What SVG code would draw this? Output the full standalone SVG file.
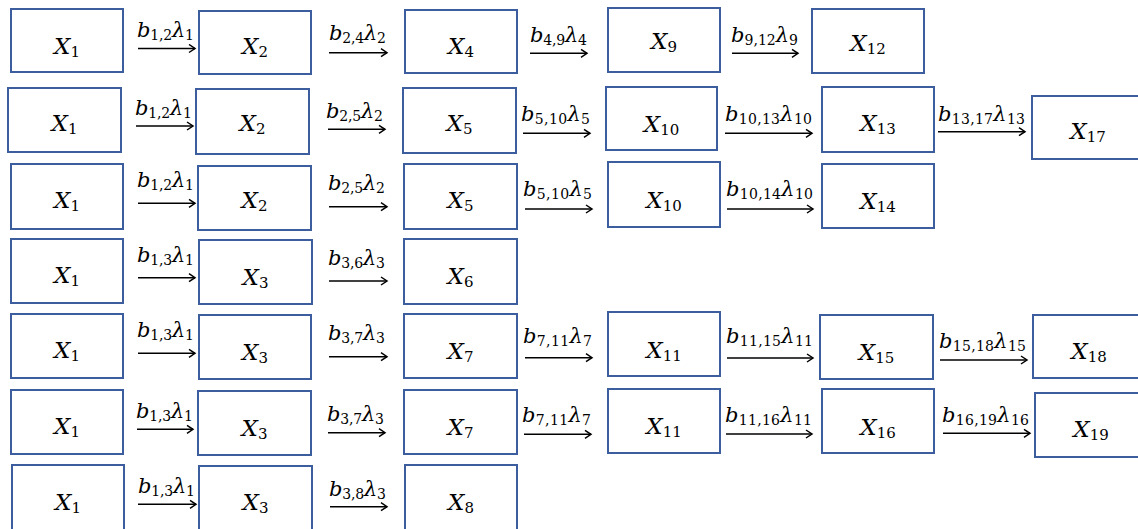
<svg xmlns="http://www.w3.org/2000/svg" width="1138" height="529" viewBox="0 0 1138 529">
<style>
.box{fill:#fff;stroke:#3D5E9E;stroke-width:2}
.nl{font-family:"DejaVu Serif",serif;font-size:23px;font-style:italic;fill:#000;text-anchor:middle}
.ns{font-style:normal;font-size:15px}
.el{font-family:"DejaVu Serif",serif;font-size:21px;font-style:italic;fill:#000}
.es{font-style:normal;font-size:14px}
.ar{stroke:#000;stroke-width:1.6;fill:none;marker-end:url(#ah)}
</style>
<defs>
<marker id="ah" markerUnits="userSpaceOnUse" markerWidth="10" markerHeight="10" refX="7" refY="5" orient="auto" viewBox="0 0 10 10">
<path d="M1,1 L7,5 L1,9" fill="none" stroke="#000" stroke-width="1.5"/>
</marker>
</defs>
<rect width="1138" height="529" fill="#fff"/>

<!-- Row 1 -->
<g id="r1-X1"><rect class="box" x="11" y="9" width="112" height="63"/><text class="nl" x="67" y="54">X<tspan class="ns" dy="3">1</tspan></text></g>
<g id="r1-X2"><rect class="box" x="199" y="11" width="112" height="63"/><text class="nl" x="255" y="54">X<tspan class="ns" dy="3">2</tspan></text></g>
<g id="r1-X4"><rect class="box" x="405" y="10" width="112" height="63"/><text class="nl" x="461" y="54">X<tspan class="ns" dy="3">4</tspan></text></g>
<g id="r1-X9"><rect class="box" x="608" y="8" width="112" height="64"/><text class="nl" x="664" y="49">X<tspan class="ns" dy="3">9</tspan></text></g>
<g id="r1-X12"><rect class="box" x="812" y="9" width="112" height="64"/><text class="nl" x="868" y="51">X<tspan class="ns" dy="3">12</tspan></text></g>

<!-- Row 2 -->
<g id="r2-X1"><rect class="box" x="8" y="88" width="113" height="64"/><text class="nl" x="64.5" y="131">X<tspan class="ns" dy="3">1</tspan></text></g>
<g id="r2-X2"><rect class="box" x="196" y="89" width="113" height="65"/><text class="nl" x="252.5" y="131">X<tspan class="ns" dy="3">2</tspan></text></g>
<g id="r2-X5"><rect class="box" x="403" y="88" width="113" height="65"/><text class="nl" x="459.5" y="131">X<tspan class="ns" dy="3">5</tspan></text></g>
<g id="r2-X10"><rect class="box" x="606" y="87" width="111" height="63"/><text class="nl" x="661.5" y="132">X<tspan class="ns" dy="3">10</tspan></text></g>
<g id="r2-X13"><rect class="box" x="822" y="87" width="112" height="65"/><text class="nl" x="878" y="131">X<tspan class="ns" dy="3">13</tspan></text></g>
<g id="r2-X17"><rect class="box" x="1032" y="96" width="112" height="63"/><text class="nl" x="1088" y="139">X<tspan class="ns" dy="3">17</tspan></text></g>

<!-- Row 3 -->
<g id="r3-X1"><rect class="box" x="11" y="164" width="112" height="65"/><text class="nl" x="67" y="208">X<tspan class="ns" dy="3">1</tspan></text></g>
<g id="r3-X2"><rect class="box" x="198" y="166" width="113" height="64"/><text class="nl" x="254.5" y="208">X<tspan class="ns" dy="3">2</tspan></text></g>
<g id="r3-X5"><rect class="box" x="404" y="164" width="113" height="65"/><text class="nl" x="460.5" y="208">X<tspan class="ns" dy="3">5</tspan></text></g>
<g id="r3-X10"><rect class="box" x="608" y="162" width="112" height="65"/><text class="nl" x="664" y="208">X<tspan class="ns" dy="3">10</tspan></text></g>
<g id="r3-X14"><rect class="box" x="822" y="164" width="112" height="64"/><text class="nl" x="878" y="209">X<tspan class="ns" dy="3">14</tspan></text></g>

<!-- Row 4 -->
<g id="r4-X1"><rect class="box" x="11" y="239" width="112" height="64"/><text class="nl" x="67" y="283">X<tspan class="ns" dy="3">1</tspan></text></g>
<g id="r4-X3"><rect class="box" x="199" y="240" width="113" height="64"/><text class="nl" x="255.5" y="285">X<tspan class="ns" dy="3">3</tspan></text></g>
<g id="r4-X6"><rect class="box" x="404" y="239" width="113" height="65"/><text class="nl" x="460.5" y="284">X<tspan class="ns" dy="3">6</tspan></text></g>

<!-- Row 5 -->
<g id="r5-X1"><rect class="box" x="11" y="314" width="112" height="64"/><text class="nl" x="67" y="358">X<tspan class="ns" dy="3">1</tspan></text></g>
<g id="r5-X3"><rect class="box" x="199" y="315" width="112" height="64"/><text class="nl" x="255" y="360">X<tspan class="ns" dy="3">3</tspan></text></g>
<g id="r5-X7"><rect class="box" x="404" y="314" width="113" height="64"/><text class="nl" x="460.5" y="359">X<tspan class="ns" dy="3">7</tspan></text></g>
<g id="r5-X11"><rect class="box" x="608" y="312" width="112" height="64"/><text class="nl" x="664" y="358">X<tspan class="ns" dy="3">11</tspan></text></g>
<g id="r5-X15"><rect class="box" x="820" y="315" width="113" height="64"/><text class="nl" x="876.5" y="360">X<tspan class="ns" dy="3">15</tspan></text></g>
<g id="r5-X18"><rect class="box" x="1033" y="315" width="112" height="63"/><text class="nl" x="1089" y="359">X<tspan class="ns" dy="3">18</tspan></text></g>

<!-- Row 6 -->
<g id="r6-X1"><rect class="box" x="11" y="390" width="112" height="64"/><text class="nl" x="67" y="434">X<tspan class="ns" dy="3">1</tspan></text></g>
<g id="r6-X3"><rect class="box" x="198" y="391" width="113" height="64"/><text class="nl" x="254.5" y="436">X<tspan class="ns" dy="3">3</tspan></text></g>
<g id="r6-X7"><rect class="box" x="404" y="390" width="113" height="64"/><text class="nl" x="460.5" y="435">X<tspan class="ns" dy="3">7</tspan></text></g>
<g id="r6-X11"><rect class="box" x="608" y="389" width="112" height="64"/><text class="nl" x="664" y="434">X<tspan class="ns" dy="3">11</tspan></text></g>
<g id="r6-X16"><rect class="box" x="822" y="389" width="112" height="64"/><text class="nl" x="878" y="435">X<tspan class="ns" dy="3">16</tspan></text></g>
<g id="r6-X19"><rect class="box" x="1035" y="393" width="112" height="64"/><text class="nl" x="1091" y="437">X<tspan class="ns" dy="3">19</tspan></text></g>

<!-- Row 7 -->
<g id="r7-X1"><rect class="box" x="12" y="465" width="112" height="70"/><text class="nl" x="68" y="510">X<tspan class="ns" dy="3">1</tspan></text></g>
<g id="r7-X3"><rect class="box" x="199" y="466" width="113" height="70"/><text class="nl" x="255.5" y="510">X<tspan class="ns" dy="3">3</tspan></text></g>
<g id="r7-X8"><rect class="box" x="405" y="465" width="112" height="70"/><text class="nl" x="461" y="510">X<tspan class="ns" dy="3">8</tspan></text></g>

<g id="connectors">
<!-- Row 1 -->
<line class="ar" x1="138" y1="48.5" x2="195" y2="48.5"/>
<text class="el" x="137" y="37" textLength="57">b<tspan class="es" dy="3">1,2</tspan><tspan dy="-3">λ</tspan><tspan class="es" dy="3">1</tspan></text>
<line class="ar" x1="329" y1="52.7" x2="387" y2="52.7"/>
<text class="el" x="329" y="40" textLength="57">b<tspan class="es" dy="3">2,4</tspan><tspan dy="-3">λ</tspan><tspan class="es" dy="3">2</tspan></text>
<line class="ar" x1="530" y1="53.3" x2="587" y2="53.3"/>
<text class="el" x="530" y="42" textLength="57">b<tspan class="es" dy="3">4,9</tspan><tspan dy="-3">λ</tspan><tspan class="es" dy="3">4</tspan></text>
<line class="ar" x1="732" y1="53.3" x2="798" y2="53.3"/>
<text class="el" x="731" y="42" textLength="67">b<tspan class="es" dy="3">9,12</tspan><tspan dy="-3">λ</tspan><tspan class="es" dy="3">9</tspan></text>

<!-- Row 2 -->
<line class="ar" x1="136" y1="126" x2="193" y2="126"/>
<text class="el" x="135" y="115" textLength="57">b<tspan class="es" dy="3">1,2</tspan><tspan dy="-3">λ</tspan><tspan class="es" dy="3">1</tspan></text>
<line class="ar" x1="328" y1="129.3" x2="385" y2="129.3"/>
<text class="el" x="326" y="118" textLength="57">b<tspan class="es" dy="3">2,5</tspan><tspan dy="-3">λ</tspan><tspan class="es" dy="3">2</tspan></text>
<line class="ar" x1="523" y1="133.3" x2="590" y2="133.3"/>
<text class="el" x="521" y="121" textLength="69">b<tspan class="es" dy="3">5,10</tspan><tspan dy="-3">λ</tspan><tspan class="es" dy="3">5</tspan></text>
<line class="ar" x1="725" y1="133.3" x2="812" y2="133.3"/>
<text class="el" x="725" y="121" textLength="87">b<tspan class="es" dy="3">10,13</tspan><tspan dy="-3">λ</tspan><tspan class="es" dy="3">10</tspan></text>
<line class="ar" x1="938" y1="131.7" x2="1025" y2="131.7"/>
<text class="el" x="938" y="121" textLength="87">b<tspan class="es" dy="3">13,17</tspan><tspan dy="-3">λ</tspan><tspan class="es" dy="3">13</tspan></text>

<!-- Row 3 -->
<line class="ar" x1="138" y1="203.3" x2="195" y2="203.3"/>
<text class="el" x="137" y="187" textLength="57">b<tspan class="es" dy="3">1,2</tspan><tspan dy="-3">λ</tspan><tspan class="es" dy="3">1</tspan></text>
<line class="ar" x1="329" y1="206.7" x2="387" y2="206.7"/>
<text class="el" x="328" y="190" textLength="57">b<tspan class="es" dy="3">2,5</tspan><tspan dy="-3">λ</tspan><tspan class="es" dy="3">2</tspan></text>
<line class="ar" x1="525" y1="209" x2="592" y2="209"/>
<text class="el" x="523" y="196" textLength="69">b<tspan class="es" dy="3">5,10</tspan><tspan dy="-3">λ</tspan><tspan class="es" dy="3">5</tspan></text>
<line class="ar" x1="727" y1="209" x2="813" y2="209"/>
<text class="el" x="726" y="196" textLength="87">b<tspan class="es" dy="3">10,14</tspan><tspan dy="-3">λ</tspan><tspan class="es" dy="3">10</tspan></text>

<!-- Row 4 -->
<line class="ar" x1="138" y1="277.7" x2="195" y2="277.7"/>
<text class="el" x="137" y="262" textLength="57">b<tspan class="es" dy="3">1,3</tspan><tspan dy="-3">λ</tspan><tspan class="es" dy="3">1</tspan></text>
<line class="ar" x1="329" y1="281" x2="387" y2="281"/>
<text class="el" x="328" y="265" textLength="57">b<tspan class="es" dy="3">3,6</tspan><tspan dy="-3">λ</tspan><tspan class="es" dy="3">3</tspan></text>

<!-- Row 5 -->
<line class="ar" x1="138" y1="353.3" x2="195" y2="353.3"/>
<text class="el" x="137" y="337" textLength="57">b<tspan class="es" dy="3">1,3</tspan><tspan dy="-3">λ</tspan><tspan class="es" dy="3">1</tspan></text>
<line class="ar" x1="329" y1="356.7" x2="387" y2="356.7"/>
<text class="el" x="328" y="340" textLength="57">b<tspan class="es" dy="3">3,7</tspan><tspan dy="-3">λ</tspan><tspan class="es" dy="3">3</tspan></text>
<line class="ar" x1="525" y1="357.7" x2="592" y2="357.7"/>
<text class="el" x="523" y="343" textLength="69">b<tspan class="es" dy="3">7,11</tspan><tspan dy="-3">λ</tspan><tspan class="es" dy="3">7</tspan></text>
<line class="ar" x1="727" y1="358" x2="813" y2="358"/>
<text class="el" x="726" y="343" textLength="87">b<tspan class="es" dy="3">11,15</tspan><tspan dy="-3">λ</tspan><tspan class="es" dy="3">11</tspan></text>
<line class="ar" x1="940" y1="360" x2="1027" y2="360"/>
<text class="el" x="939" y="348" textLength="87">b<tspan class="es" dy="3">15,18</tspan><tspan dy="-3">λ</tspan><tspan class="es" dy="3">15</tspan></text>

<!-- Row 6 -->
<line class="ar" x1="137" y1="429.3" x2="193" y2="429.3"/>
<text class="el" x="136" y="418" textLength="57">b<tspan class="es" dy="3">1,3</tspan><tspan dy="-3">λ</tspan><tspan class="es" dy="3">1</tspan></text>
<line class="ar" x1="328" y1="432.7" x2="385" y2="432.7"/>
<text class="el" x="327" y="421" textLength="57">b<tspan class="es" dy="3">3,7</tspan><tspan dy="-3">λ</tspan><tspan class="es" dy="3">3</tspan></text>
<line class="ar" x1="524" y1="434.3" x2="591" y2="434.3"/>
<text class="el" x="522" y="422" textLength="69">b<tspan class="es" dy="3">7,11</tspan><tspan dy="-3">λ</tspan><tspan class="es" dy="3">7</tspan></text>
<line class="ar" x1="726" y1="434" x2="812" y2="434"/>
<text class="el" x="725" y="422" textLength="87">b<tspan class="es" dy="3">11,16</tspan><tspan dy="-3">λ</tspan><tspan class="es" dy="3">11</tspan></text>
<line class="ar" x1="943" y1="433.3" x2="1030" y2="433.3"/>
<text class="el" x="942" y="422" textLength="87">b<tspan class="es" dy="3">16,19</tspan><tspan dy="-3">λ</tspan><tspan class="es" dy="3">16</tspan></text>

<!-- Row 7 -->
<line class="ar" x1="138" y1="504.3" x2="196" y2="504.3"/>
<text class="el" x="138" y="493" textLength="57">b<tspan class="es" dy="3">1,3</tspan><tspan dy="-3">λ</tspan><tspan class="es" dy="3">1</tspan></text>
<line class="ar" x1="330" y1="506.7" x2="387" y2="506.7"/>
<text class="el" x="329" y="496" textLength="57">b<tspan class="es" dy="3">3,8</tspan><tspan dy="-3">λ</tspan><tspan class="es" dy="3">3</tspan></text>
</g>
</svg>
